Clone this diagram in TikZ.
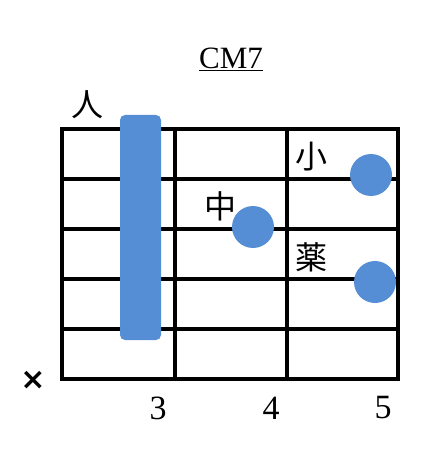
\documentclass[tikz,border=0pt]{standalone}
\usepackage{fontspec}
\usetikzlibrary{positioning}
\newfontfamily\jpfont{Noto Sans CJK JP}
\newfontfamily\symfont{DejaVu Sans}
\setmainfont{Liberation Serif}
\definecolor{mDot}{HTML}{558ED5}
\tikzset{
  finger/.style={circle,fill=mDot,inner sep=0pt,minimum size=42pt},
  barre/.style ={rectangle,rounded corners=5pt,fill=mDot,inner sep=0pt,minimum width=41pt,minimum height=225pt},
  fname/.style ={font=\jpfont\fontsize{32}{32}\selectfont,inner sep=0pt},
  fret/.style  ={font=\fontsize{34}{34}\selectfont,inner sep=0pt},
  wire/.style  ={line width=3.2pt,line cap=rect},
}
\begin{document}
\begin{tikzpicture}[x=1pt,y=1pt]
  \useasboundingbox (0,0) rectangle (437,-465);
  % strings and frets
  \foreach \y in {129,179,229,279,329,379}
    \draw[wire] (62,-\y) -- (398,-\y);
  \foreach \x in {62,175,287,398}
    \draw[wire] (\x,-129) -- (\x,-379);
  \node[font=\fontsize{31}{31}\selectfont,inner sep=0pt] (title) at (231,-59) {\underline{CM7}};
  \node[barre] (bar) at (140.5,-227.5) {};
  \node[finger] (mid) at (253,-227) {};
  \node[finger] (small) at (371,-175) {};
  \node[finger] (ring) at (375,-282) {};
  \node[fname] (lbar) at (87,-105) {人};
  \node[fname] (lmid) at (220,-206) {中};
  \node[fname] (lsmall) at (311,-157) {小};
  \node[fname] (lring) at (311,-257) {薬};
  \node[font=\symfont\bfseries\fontsize{30}{30}\selectfont,inner sep=0pt] (mute) at (33,-380) {×};
  \node[fret] (f3) at (158,-408) {3};
  \node[fret] (f4) at (271,-408) {4};
  \node[fret] (f5) at (383,-408) {5};
\end{tikzpicture}
\end{document}
